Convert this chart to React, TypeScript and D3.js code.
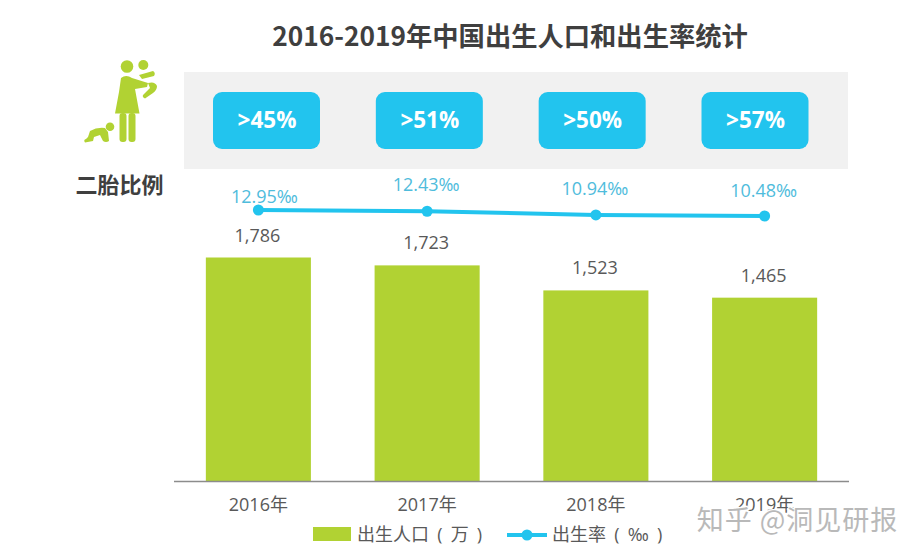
import React from "react";
import * as d3 from "d3";

const years = ["2016年", "2017年", "2018年", "2019年"];
const births = [1786, 1723, 1523, 1465];
const birthRates = [12.95, 12.43, 10.94, 10.48];
const rateLabels = ["12.95‰", "12.43‰", "10.94‰", "10.48‰"];
const shares = [">45%", ">51%", ">50%", ">57%"];
const rateLabelDy = [-7, -20, -20, -19];
const rateLabelDx = [6, -1, -1, -1];
const countLabelDy = [-16, -16, -16, -16];

const GREEN = "#b1d233";
const BLUE = "#22c4ee";
const DARK = "#595959";
const FONT = "'Open Sans','Noto Sans CJK SC',sans-serif";
const CJK = "'Noto Sans CJK SC',sans-serif";

const x = d3.scaleBand<string>().domain(years).range([174, 849]).paddingInner(0.3774).paddingOuter(0.1887);
const y = d3.scaleLinear().domain([0, 1786]).range([481, 257.5]);
const yRate = d3.scaleLinear().domain([10.48, 12.95]).range([216, 210]);
const pill = d3.scalePoint<string>().domain(years).range([266.5, 755]);
const cx = (d: string) => (x(d) as number) + x.bandwidth() / 2;
const line = d3.line<number>().x((_, i) => cx(years[i])).y((d) => yRate(d));

export default function App() {
  return (
    <svg width={921} height={557} style={{ position: "absolute", left: 0, top: 0, background: "#fff" }}>
      <defs>
        <clipPath id="legendClip"><rect x={0} y={520} width={921} height={23.5} /></clipPath>
      </defs>
      <text x={510} y={46} textAnchor="middle" fontFamily={CJK} fontWeight={700} fontSize={26.3} fill="#3f3f3f">
        2016-2019年中国出生人口和出生率统计
      </text>

      <rect x={184} y={72} width={664} height={97} fill="#f1f1f1" />
      {years.map((d, i) => (
        <g key={d}>
          <rect x={(pill(d) as number) - 53.5} y={92} width={107} height={57} rx={9} fill={BLUE} />
          <text x={(pill(d) as number) + 0.5} y={128} textAnchor="middle" fontFamily={FONT} fontWeight={700} fontSize={22.5} fill="#fff">
            {shares[i]}
          </text>
        </g>
      ))}

      {births.map((v, i) => (
        <g key={years[i]}>
          <rect x={x(years[i])} y={y(v)} width={x.bandwidth()} height={481 - y(v)} fill={GREEN} />
          <text x={cx(years[i]) - 1} y={y(v) + countLabelDy[i]} textAnchor="middle" fontFamily={FONT} fontSize={18} fill={DARK}>
            {d3.format(",")(v)}
          </text>
          <text x={cx(years[i])} y={511} textAnchor="middle" fontFamily={FONT} fontSize={18} fill={DARK}>
            {years[i]}
          </text>
        </g>
      ))}
      <line x1={174} x2={849} y1={481.5} y2={481.5} stroke="#8c8c8c" strokeWidth={1.5} />

      <path d={line(birthRates) as string} fill="none" stroke={BLUE} strokeWidth={4} />
      {birthRates.map((v, i) => (
        <g key={i}>
          <circle cx={cx(years[i])} cy={yRate(v)} r={5.5} fill={BLUE} />
          <text x={cx(years[i]) + rateLabelDx[i]} y={yRate(v) + rateLabelDy[i]} textAnchor="middle" fontFamily={FONT} fontSize={18} fill="#4fbcdc">
            {rateLabels[i]}
          </text>
        </g>
      ))}

      <g fill={GREEN}>
        <circle cx={127} cy={66.5} r={6.3} />
        <circle cx={143.3} cy={65} r={5} />
        <path d="M121 78 Q126 74 132 78 L148 83 L147 87 L135 89 L139.5 113.5 L115 113.5 L119 92 Z" />
        <path d="M139 75 L153 71 Q156 73 154 76 L142 79 Z" />
        <path d="M148 83 Q155 81 157 86 Q157 90 153 93 L145 98.5 Q142 97 143 95 L150 88 Z" />
        <rect x={119.5} y={113} width={7} height={29} rx={3} />
        <rect x={128.5} y={113} width={7} height={29} rx={3} />
        <circle cx={110} cy={126.7} r={4.3} />
        <path d="M90 131 Q97 127 105 128 L108 132 L109 141 Q106 143 103 141 L100 135 L94 137 L93 141 L85 142.5 Q83 140 86 139 L88 137 Z" />
      </g>
      <text x={119.5} y={192.5} textAnchor="middle" fontFamily={CJK} fontWeight={700} fontSize={22} fill="#3f3f3f">二胎比例</text>

      <g clipPath="url(#legendClip)">
        <rect x={313} y={527} width={38} height={14} fill={GREEN} />
        <text x={357} y={541} fontFamily={FONT} fontSize={18} fill={DARK} wordSpacing={3.5}>出生人口 ( 万 )</text>
        <line x1={507} x2={547} y1={535} y2={535} stroke={BLUE} strokeWidth={4} />
        <circle cx={527} cy={535} r={5.5} fill={BLUE} />
        <text x={552} y={541} fontFamily={FONT} fontSize={18} fill={DARK} wordSpacing={3.5}>出生率 ( ‰ )</text>
      </g>

      <text x={797.5} y={530} textAnchor="middle" fontFamily={CJK} fontSize={27} letterSpacing={1} fill="#b9b9b9" stroke="#fff" strokeWidth={2.5} paintOrder="stroke">
        知乎 @洞见研报
      </text>
    </svg>
  );
}
